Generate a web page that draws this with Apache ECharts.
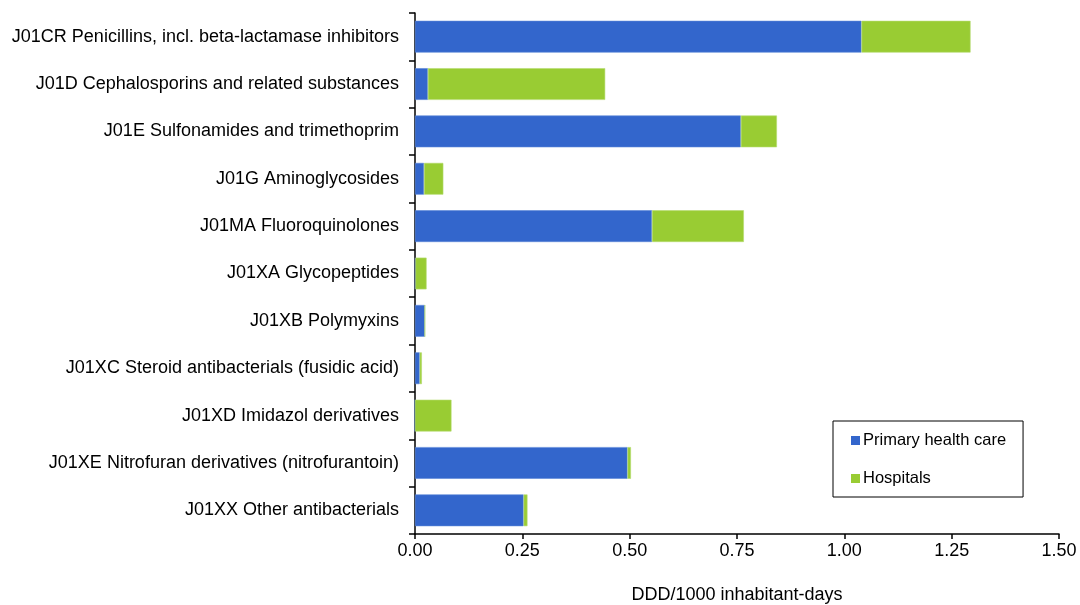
<!DOCTYPE html>
<html><head><meta charset="utf-8">
<script src="https://cdn.jsdelivr.net/npm/echarts@6/dist/echarts.min.js"></script>
<style>html,body{margin:0;padding:0;background:#fff}#c{width:1080px;height:605px}</style>
</head><body><div id="c"></div>
<script>
var categories = [
  "J01CR Penicillins, incl. beta-lactamase inhibitors",
  "J01D Cephalosporins and related substances",
  "J01E Sulfonamides and trimethoprim",
  "J01G Aminoglycosides",
  "J01MA Fluoroquinolones",
  "J01XA Glycopeptides",
  "J01XB Polymyxins",
  "J01XC Steroid antibacterials (fusidic acid)",
  "J01XD Imidazol derivatives",
  "J01XE Nitrofuran derivatives (nitrofurantoin)",
  "J01XX Other antibacterials"
];
var primaryCare = [1.040, 0.030, 0.759, 0.021, 0.552, 0.001, 0.023, 0.011, 0.000, 0.495, 0.253];
var hospitals   = [0.254, 0.413, 0.084, 0.045, 0.214, 0.026, 0.000, 0.005, 0.085, 0.008, 0.009];
var xTicks = ["0.00","0.25","0.50","0.75","1.00","1.25","1.50"];

var font = 'Liberation Sans, Arial, sans-serif';
var chart = echarts.init(document.getElementById('c'));
chart.setOption({
  animation: false,
  textStyle: {fontFamily: font},
  grid: {left: 415, right: 21, top: 13, bottom: 71, containLabel: false, outerBoundsMode: 'none'},
  legend: {
    orient: 'vertical', left: 833, top: 421,
    itemWidth: 9, itemHeight: 9, itemGap: 21,
    borderColor: '#000', borderWidth: 1,
    padding: [11, 17, 10, 18],
    icon: 'rect',
    itemStyle: {borderWidth: 0},
    textStyle: {fontFamily: font, fontSize: 16.5, color: '#000', padding: [0,0,0,-2]},
    data: ['Primary health care', 'Hospitals']
  },
  xAxis: {
    type: 'value', min: 0, max: 1.5, interval: 0.25,
    name: 'DDD/1000 inhabitant-days', nameLocation: 'middle', nameGap: 52,
    nameTextStyle: {fontFamily: font, fontSize: 18, color: '#000'},
    axisLine: {show: true, lineStyle: {color: '#000', width: 1.5}},
    axisTick: {show: true, length: 5, lineStyle: {color: '#000', width: 1.5}},
    axisLabel: {fontFamily: font, fontSize: 18, color: '#000', margin: 8,
      formatter: function(v){ return xTicks[Math.round(v/0.25)]; }},
    splitLine: {show: false}
  },
  yAxis: {
    type: 'category', data: categories, inverse: true,
    axisLine: {show: true, lineStyle: {color: '#000', width: 1.5}},
    axisTick: {show: true, length: 6, alignWithLabel: false, lineStyle: {color: '#000', width: 1.5}},
    axisLabel: {fontFamily: font, fontSize: 18, color: '#000', margin: 16}
  },
  series: [
    {name: 'Primary health care', type: 'bar', stack: 'a', data: primaryCare, barWidth: '67%',
     itemStyle: {color: '#3366CC', borderColor: '#5A86D9', borderWidth: 0.6}},
    {name: 'Hospitals', type: 'bar', stack: 'a', data: hospitals, barWidth: '67%',
     itemStyle: {color: '#99CC33', borderColor: '#B5DB70', borderWidth: 0.6}}
  ]
});
</script></body></html>
